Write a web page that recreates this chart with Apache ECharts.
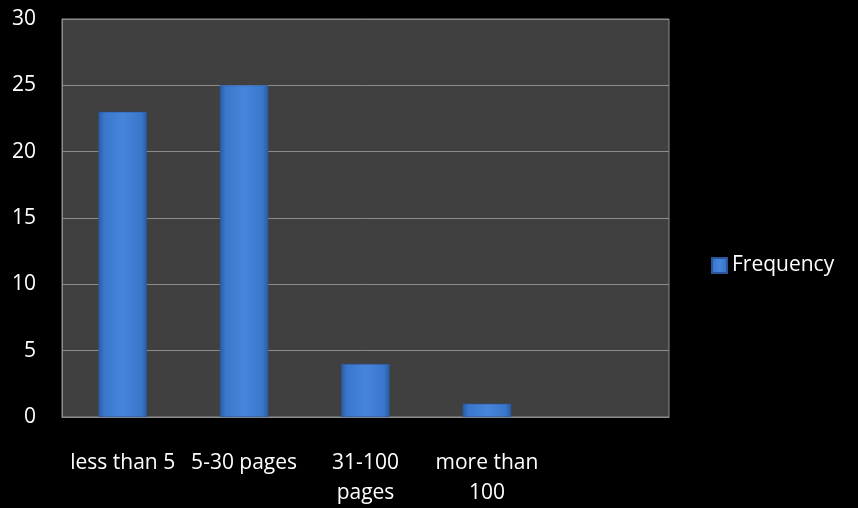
<!DOCTYPE html>
<html><head><meta charset="utf-8">
<script src="https://cdn.jsdelivr.net/npm/echarts@6/dist/echarts.min.js"></script>
<style>html,body{margin:0;padding:0;background:#000}#c{width:858px;height:508px}</style>
</head><body><div id="c"></div>
<script>
const categories = ['less than 5', '5-30 pages', '31-100\npages', 'more than\n100', ''];
const frequency = [23, 25, 4, 1, null];
const seriesName = 'Frequency';
const yMin = 0, yMax = 30, yStep = 5;

const chart = echarts.init(document.getElementById('c'));
const font = 'Open Sans';
const barGrad = new echarts.graphic.LinearGradient(0, 0, 1, 0, [
  {offset: 0, color: '#2a5ba0'},
  {offset: 0.12, color: '#3a77cc'},
  {offset: 0.5, color: '#4585da'},
  {offset: 0.88, color: '#3a77cc'},
  {offset: 1, color: '#2a5ba0'}
]);
chart.setOption({
  backgroundColor: '#000',
  animation: false,
  grid: {left: 62, right: 189, top: 19, bottom: 91, show: true, backgroundColor: '#404040', borderColor: '#8c8c8c', borderWidth: 1},
  legend: {
    orient: 'vertical', left: 706, top: 250,
    itemWidth: 15, itemHeight: 15, itemGap: 8,
    textStyle: {color: '#fff', fontFamily: font, fontSize: 21},
    data: [{name: seriesName, icon: 'rect'}]
  },
  xAxis: {
    type: 'category', data: categories,
    axisLine: {show: true, lineStyle: {color: '#8c8c8c'}},
    axisTick: {show: false},
    axisLabel: {color: '#fff', fontFamily: font, fontSize: 21, margin: 31, lineHeight: 30, interval: 0}
  },
  yAxis: {
    type: 'value', min: yMin, max: yMax, interval: yStep,
    axisLine: {show: true, lineStyle: {color: '#8c8c8c'}},
    axisTick: {show: false},
    splitLine: {lineStyle: {color: '#8c8c8c', width: 1}},
    axisLabel: {color: '#fff', fontFamily: font, fontSize: 21, margin: 26}
  },
  series: [{
    name: seriesName, type: 'bar', data: frequency, barWidth: '40%',
    itemStyle: {color: barGrad, borderColor: '#2a5598', borderWidth: 0.5}
  }]
});
</script></body></html>
